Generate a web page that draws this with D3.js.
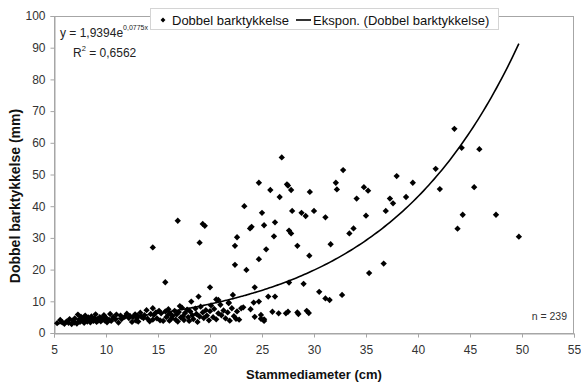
<!DOCTYPE html>
<html>
<head>
<meta charset="utf-8">
<script src="https://cdn.jsdelivr.net/npm/d3@7"></script>
<style>
  body { margin: 0; background: #fff; }
  svg { display: block; font-family: "Liberation Sans", Arial, sans-serif; }
</style>
</head>
<body>
<div id="chart"></div>
<script>
let svgWidth = 581;
let svgHeight = 385;
let margin = { top: 16, right: 7, bottom: 52, left: 54 };

// stem diameter (cm) and double bark thickness (mm)
let diam = [
  // scattered upper points
  26.9, 32.8, 24.7, 27.4, 27.5, 25.8, 27.8, 32.1, 32.2, 34.8, 35.2, 37.95, 26.7, 29.6, 34.1, 37.3, 37.6,
  23.3, 25.0, 27.9, 28.8, 29.2, 30.0, 31.1, 36.9, 35.0, 25.2, 26.25, 23.85, 24.0, 19.3, 19.5, 22.6, 22.4,
  26.15, 27.6, 27.8, 28.4, 25.4, 24.7, 22.4, 23.5, 29.55, 31.6, 33.4, 33.8, 35.3, 36.7, 19.0, 20.0, 22.2,
  24.3, 27.6, 29.0, 25.6, 26.25, 30.5, 31.1, 31.5, 32.7, 43.5, 44.2, 45.9, 41.7, 39.5, 42.1, 45.4, 38.85,
  44.3, 47.5, 43.8, 49.7, 16.9, 14.5, 15.7, 18.9, 20.8,
  // lower right part of the cloud
  20.6, 21.8, 24.2, 24.7, 23.2, 23.0, 21.8, 18.2, 17.1, 26.0, 27.5, 28.4, 29.3, 24.9, 25.2, 29.5, 28.5,
  27.3, 26.6, 24.3, 24.9, 25.2, 23.9, 22.5,
  // dense cloud
  5.3, 5.6, 5.8, 6.0, 6.2, 6.4, 6.5, 6.7, 6.8, 7.0, 7.0, 7.2,
  7.3, 7.4, 7.5, 7.6, 7.7, 7.8, 7.9, 8.0, 8.1, 8.2, 8.3, 8.4, 8.5, 8.6, 8.7, 8.8, 8.9, 9.0, 9.1, 9.2,
  9.3, 9.4, 9.5, 9.6, 9.7, 9.8, 9.9, 10.0,
  10.1, 10.3, 10.4, 10.5, 10.7, 10.9, 11.0, 11.2, 11.4, 11.5, 11.8, 12.0, 12.2, 12.3, 12.5, 12.6,
  12.8, 12.9, 13.0, 13.0,
  13.1, 13.3, 13.4, 13.6, 13.7, 13.9, 14.0, 14.2, 14.3, 14.5, 14.5, 14.6, 14.8, 14.9, 15.1, 15.2,
  15.3, 15.5, 15.7, 15.8, 16.0, 16.0,
  16.1, 16.2, 16.3, 16.4, 16.6, 16.7, 16.8, 16.9, 17.0, 17.2, 17.3, 17.4, 17.5, 17.6, 17.8, 17.9,
  18.0, 18.1, 18.3, 18.4, 18.6, 18.7, 18.8, 19.0, 19.1, 19.3, 19.4, 19.6, 19.7, 19.9, 20.0, 20.1,
  20.3, 20.4, 20.6, 20.8, 21.0, 21.1, 21.3, 21.5, 21.7, 21.9, 22.1, 22.3, 22.6, 22.8
];
let bark = [
  55.4, 51.4, 47.4, 46.9, 46.5, 45.1, 45.1, 47.4, 45.3, 46.0, 44.9, 49.5, 42.9, 44.5, 42.4, 42.4, 40.9,
  40.0, 37.9, 38.5, 37.9, 36.9, 38.5, 36.5, 38.5, 37.0, 34.0, 34.9, 33.0, 33.5, 34.4, 33.8, 30.2, 27.5,
  30.5, 32.3, 31.4, 27.5, 26.4, 23.3, 21.5, 19.9, 24.4, 28.0, 31.4, 33.0, 18.9, 21.9, 28.5, 14.4, 12.0,
  14.4, 15.9, 15.5, 11.5, 11.5, 13.0, 10.9, 10.4, 12.0, 64.4, 58.4, 58.0, 51.8, 47.4, 45.4, 46.0, 42.9,
  37.3, 37.3, 32.9, 30.4, 35.4, 27.0, 16.0, 11.5, 10.4,
  10.6, 9.4, 9.6, 9.9, 8.1, 7.8, 9.6, 9.9, 8.5, 6.7, 6.7, 6.5, 7.0, 5.7, 4.3, 6.3, 6.0,
  6.2, 6.2, 5.1, 4.5, 3.8, 7.5, 4.5,
  3.1, 4.1, 3.4, 2.9, 3.6, 3.2, 4.4, 2.8, 3.9, 3.3, 4.6, 3.0,
  5.8, 4.2, 3.5, 5.1, 3.9, 4.6, 3.2, 5.5, 4.0, 3.6, 4.9, 4.3, 3.4, 5.2, 4.1, 3.8, 4.7, 5.9, 3.5, 4.4,
  4.0, 5.0, 3.7, 4.5, 4.2, 5.6, 3.9, 4.8,
  3.4, 4.1, 6.0, 3.8, 5.0, 4.3, 5.8, 3.3, 5.5, 4.4, 5.1, 6.1, 4.7, 5.4, 3.5, 5.0,
  5.9, 3.9, 4.8, 5.5,
  3.6, 6.4, 5.1, 4.7, 5.6, 7.2, 4.5, 3.7, 6.0, 7.8, 4.2, 5.7, 6.5, 4.6, 7.0, 4.0,
  6.2, 3.8, 6.8, 5.0, 7.5, 5.8,
  3.9, 6.1, 4.6, 5.4, 7.0, 4.2, 5.9, 3.6, 6.6, 4.9, 8.0, 5.3, 4.1, 6.3, 7.4, 5.0,
  3.8, 6.8, 5.6, 4.4, 7.7, 6.0, 3.5, 5.2, 8.3, 6.5, 4.7, 7.2, 5.5, 4.0, 6.9, 8.7,
  5.0, 7.6, 4.3, 6.2, 8.9, 5.6, 7.1, 4.6, 6.5, 3.9, 7.8, 5.3, 6.8, 4.2
];

// trendline from the chart label
let trendA = 1.9394;
let trendB = 0.0775;

let xTicks = [5, 10, 15, 20, 25, 30, 35, 40, 45, 50, 55];
let yTicks = [0, 10, 20, 30, 40, 50, 60, 70, 80, 90, 100];

let points = diam.map((d, i) => ({ x: d, y: bark[i] }));

let svg = d3.select('#chart')
  .append('svg')
  .attr('width', svgWidth)
  .attr('height', svgHeight);

let x = d3.scaleLinear()
  .domain([5, 55])
  .range([margin.left, svgWidth - margin.right]);

let y = d3.scaleLinear()
  .domain([0, 100])
  .range([svgHeight - margin.bottom, margin.top]);

// plot frame
svg.append('rect')
  .attr('x', x(5) + 0.5)
  .attr('y', y(100) + 0.5)
  .attr('width', x(55) - x(5) - 1)
  .attr('height', y(0) - y(100))
  .attr('fill', 'none')
  .attr('stroke', '#a6a6a6');

let xAxis = svg.append('g')
  .attr('transform', `translate(0,${y(0) + 0.5})`)
  .call(d3.axisBottom(x).tickValues(xTicks).tickSize(4).tickPadding(8));

let yAxis = svg.append('g')
  .attr('transform', `translate(${x(5) + 0.5},0)`)
  .call(d3.axisLeft(y).tickValues(yTicks).tickSize(4).tickPadding(5));

[xAxis, yAxis].forEach(function(a) {
  a.select('.domain').attr('stroke', '#a6a6a6');
  a.selectAll('.tick line').attr('stroke', '#a6a6a6');
  a.selectAll('.tick text')
    .attr('fill', '#333')
    .style('font-size', '12px')
    .style('font-family', '"Liberation Sans", Arial, sans-serif');
});

// points
svg.append('g')
  .selectAll('path')
  .data(points)
  .join('path')
    .attr('d', d3.symbol().type(d3.symbolSquare).size(20))
    .attr('transform', d => `translate(${x(d.x)},${y(d.y)}) rotate(45)`)
    .attr('fill', '#000');

// exponential trendline
let xMin = d3.min(diam);
let xMax = d3.max(diam);
let curve = d3.range(xMin, xMax, 0.25).concat([xMax])
  .map(v => ({ x: v, y: trendA * Math.exp(trendB * v) }));

svg.append('path')
  .datum(curve)
  .attr('fill', 'none')
  .attr('stroke', '#000')
  .attr('stroke-width', 1.6)
  .attr('d', d3.line().x(d => x(d.x)).y(d => y(d.y)).curve(d3.curveMonotoneX));

// equation
let eq = svg.append('text')
  .attr('x', 60)
  .attr('y', 37)
  .attr('fill', '#222')
  .style('font-size', '12px');
eq.append('tspan').text('y = 1,9394e');
eq.append('tspan').attr('dy', -7).style('font-size', '7px').text('0,0775x');

let r2 = svg.append('text')
  .attr('x', 73)
  .attr('y', 57)
  .attr('fill', '#222')
  .style('font-size', '12px');
r2.append('tspan').text('R');
r2.append('tspan').attr('dy', -6).style('font-size', '7.5px').text('2');
r2.append('tspan').attr('dy', 6).text(' = 0,6562');

// n label
svg.append('text')
  .attr('x', 567)
  .attr('y', 320)
  .attr('text-anchor', 'end')
  .attr('fill', '#333')
  .style('font-size', '10.5px')
  .text('n = 239');

// legend
let legend = svg.append('g');
legend.append('rect')
  .attr('x', 150.5)
  .attr('y', 8.5)
  .attr('width', 348)
  .attr('height', 21)
  .attr('fill', '#fff')
  .attr('stroke', '#d4d4d4');
legend.append('path')
  .attr('d', d3.symbol().type(d3.symbolSquare).size(12))
  .attr('transform', 'translate(163,20) rotate(45)')
  .attr('fill', '#000');
legend.append('text')
  .attr('x', 172)
  .attr('y', 24.5)
  .attr('fill', '#111')
  .style('font-size', '13px')
  .text('Dobbel barktykkelse');
legend.append('line')
  .attr('x1', 296).attr('x2', 311)
  .attr('y1', 20).attr('y2', 20)
  .attr('stroke', '#000')
  .attr('stroke-width', 1.6);
legend.append('text')
  .attr('x', 313)
  .attr('y', 24.5)
  .attr('fill', '#111')
  .style('font-size', '13px')
  .text('Ekspon. (Dobbel barktykkelse)');

// axis titles
svg.append('text')
  .attr('x', 314)
  .attr('y', 379)
  .attr('text-anchor', 'middle')
  .attr('fill', '#111')
  .style('font-size', '13px')
  .style('font-weight', 'bold')
  .text('Stammediameter (cm)');

svg.append('text')
  .attr('transform', 'translate(20,196) rotate(-90)')
  .attr('text-anchor', 'middle')
  .attr('fill', '#111')
  .style('font-size', '14px')
  .style('font-weight', 'bold')
  .text('Dobbel barktykkelse (mm)');
</script>
</body>
</html>
